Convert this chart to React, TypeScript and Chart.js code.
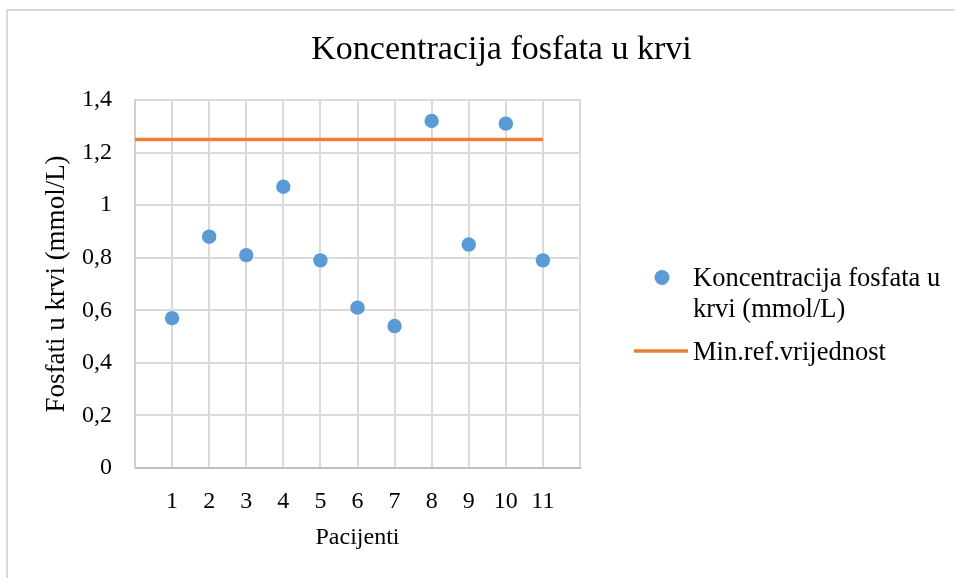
import React, { useEffect, useRef } from 'react';
import { Chart, registerables } from 'chart.js';

Chart.register(...registerables);

// ---- data ----
const patients = [1, 2, 3, 4, 5, 6, 7, 8, 9, 10, 11];
const phosphate = [0.57, 0.88, 0.81, 1.07, 0.79, 0.61, 0.54, 1.32, 0.85, 1.31, 0.79];
const refLineX = [0, 11];
const refLineY = [1.25, 1.25];
const xRange = [0, 12];
const yRange = [0, 1.4];
const yStep = 0.2;

const chartTitle = 'Koncentracija fosfata u krvi';
const seriesLabel = 'Koncentracija fosfata u krvi (mmol/L)';
const refLabel = 'Min.ref.vrijednost';
const xTitle = 'Pacijenti';
const yTitle = 'Fosfati u krvi (mmol/L)';

const FONT = "'Liberation Serif', 'Times New Roman', serif";
const BLUE = '#5B9BD5';
const ORANGE = '#ED7D31';
const TEXT = '#000000';

function wrap(ctx: CanvasRenderingContext2D, text: string, maxW: number): string[] {
  const words = text.split(' ');
  const lines: string[] = [];
  let cur = '';
  for (const w of words) {
    const t = cur ? cur + ' ' + w : w;
    if (ctx.measureText(t).width > maxW && cur) {
      lines.push(cur);
      cur = w;
    } else cur = t;
  }
  if (cur) lines.push(cur);
  return lines;
}

const overlay = {
  id: 'overlay',
  afterDraw(chart: any) {
    const ctx: CanvasRenderingContext2D = chart.ctx;
    const a = chart.chartArea;
    ctx.save();
    ctx.fillStyle = TEXT;
    ctx.textBaseline = 'alphabetic';
    // title
    ctx.font = `34px ${FONT}`;
    ctx.textAlign = 'center';
    ctx.fillText(chartTitle, 501.5, 59);
    // legend
    ctx.font = `26.5px ${FONT}`;
    ctx.textAlign = 'left';
    const tx = a.right + 113;
    const lines = wrap(ctx, seriesLabel, 255);
    lines.forEach((ln, i) => ctx.fillText(ln, tx, 286 + i * 30.7));
    ctx.beginPath();
    ctx.fillStyle = BLUE;
    ctx.arc(a.right + 82, 277.5, 7.5, 0, Math.PI * 2);
    ctx.fill();
    ctx.strokeStyle = ORANGE;
    ctx.lineWidth = 3.5;
    ctx.beginPath();
    ctx.moveTo(a.right + 54, 351);
    ctx.lineTo(a.right + 108, 351);
    ctx.stroke();
    ctx.fillStyle = TEXT;
    ctx.fillText(refLabel, tx, 360);
    ctx.restore();
  },
};

export default function App() {
  const ref = useRef<HTMLCanvasElement | null>(null);
  useEffect(() => {
    if (!ref.current) return;
    const chart = new Chart(ref.current, {
      type: 'scatter',
      data: {
        datasets: [
          {
            label: seriesLabel,
            data: patients.map((p, i) => ({ x: p, y: phosphate[i] })),
            backgroundColor: BLUE,
            borderColor: BLUE,
            borderWidth: 0,
            pointRadius: 7.2,
            pointHoverRadius: 7.2,
          },
          {
            label: refLabel,
            data: refLineX.map((x, i) => ({ x, y: refLineY[i] })),
            showLine: true,
            borderColor: ORANGE,
            backgroundColor: ORANGE,
            borderWidth: 3.5,
            pointRadius: 0,
            borderCapStyle: 'butt',
          } as any,
        ],
      },
      options: {
        animation: false,
        responsive: false,
        devicePixelRatio: 1,
        layout: { padding: { top: 100, right: 375, left: 0, bottom: 0 } },
        plugins: {
          legend: { display: false },
          tooltip: { enabled: false },
          title: { display: false },
        },
        scales: {
          x: {
            type: 'linear',
            min: xRange[0],
            max: xRange[1],
            afterFit: (s: any) => {
              s.height = 110;
            },
            ticks: {
              stepSize: 1,
              autoSkip: false,
              maxRotation: 0,
              padding: 19,
              color: TEXT,
              font: { family: FONT, size: 24 },
              callback: (v: any) => (v >= patients[0] && v <= patients[patients.length - 1] ? String(v) : ''),
            },
            grid: { color: '#dadada', lineWidth: 2, drawTicks: false },
            border: { color: '#bfbfbf', width: 2 },
            title: {
              display: true,
              text: xTitle,
              color: TEXT,
              font: { family: FONT, size: 24 },
              padding: { top: 0, bottom: 26 },
            },
          },
          y: {
            type: 'linear',
            min: yRange[0],
            max: yRange[1],
            afterFit: (s: any) => {
              s.width = 135;
            },
            ticks: {
              stepSize: yStep,
              padding: 23,
              color: TEXT,
              font: { family: FONT, size: 24 },
              callback: (v: any) => String(Number(Number(v).toFixed(1))).replace('.', ','),
            },
            grid: { color: '#dadada', lineWidth: 2, drawTicks: false },
            border: { color: '#d0d0d0', width: 2 },
            title: {
              display: true,
              text: yTitle,
              color: TEXT,
              font: { family: FONT, size: 27 },
              padding: { top: 41, bottom: 0 },
            },
          },
        },
      },
      plugins: [overlay],
    } as any);
    return () => chart.destroy();
  }, []);

  return (
    <>
      <div
        style={{
          position: 'fixed',
          left: 6,
          top: 9,
          width: 1000,
          height: 700,
          border: '2px solid #d9d9d9',
          boxSizing: 'border-box',
        }}
      />
      <canvas
        ref={ref}
        width={955}
        height={578}
        style={{ position: 'fixed', left: 0, top: 0, width: 955, height: 578 }}
      />
    </>
  );
}
